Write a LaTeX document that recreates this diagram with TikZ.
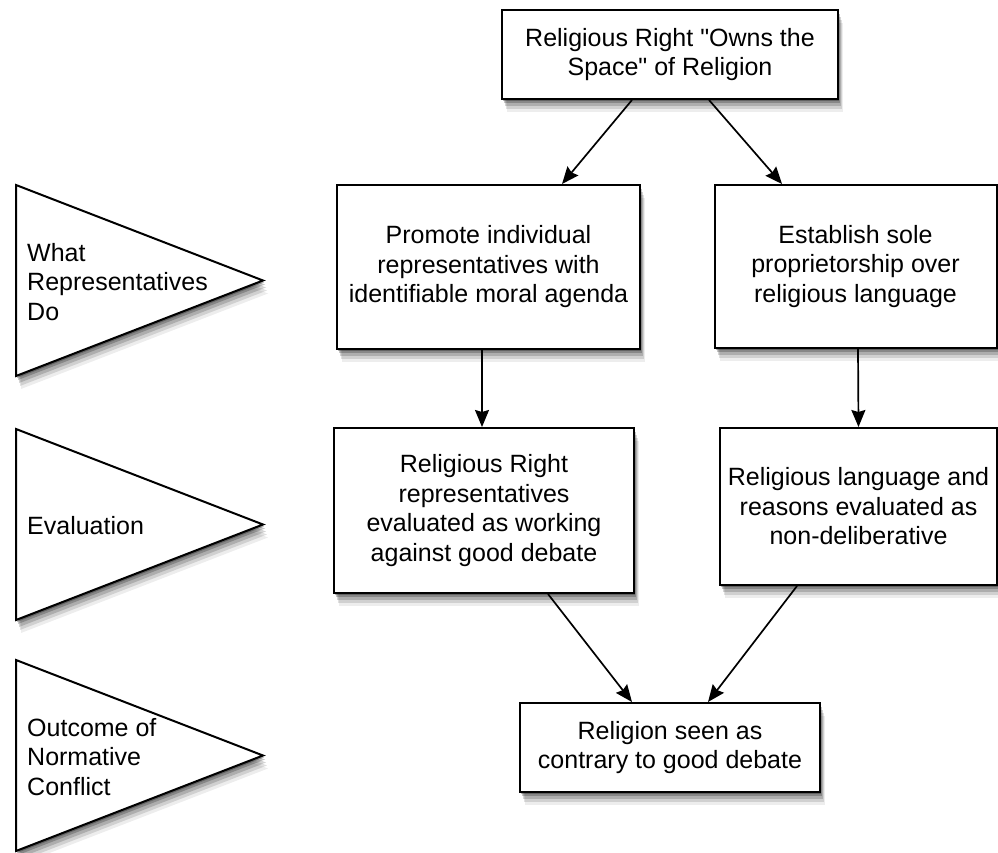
\documentclass[tikz,border=0pt]{standalone}
\usepackage{fontspec}
\setmainfont{Liberation Sans}
\usetikzlibrary{arrows.meta,shadows}
\tikzset{>={Stealth[length=17pt,width=14pt,inset=2pt]}}
\tikzset{
  boxshadow/.style={
    drop shadow={shadow xshift=1pt,shadow yshift=-2pt,fill=black,opacity=.28},
    drop shadow={shadow xshift=2pt,shadow yshift=-4pt,fill=black,opacity=.22},
    drop shadow={shadow xshift=3pt,shadow yshift=-7pt,fill=black,opacity=.17},
    drop shadow={shadow xshift=4pt,shadow yshift=-10pt,fill=black,opacity=.12},
    drop shadow={shadow xshift=5pt,shadow yshift=-13pt,fill=black,opacity=.07}},
  box/.style={draw,line width=2pt,fill=white,boxshadow,align=center,inner sep=4pt},
  tri/.style={draw,line width=2pt,fill=white,boxshadow,line join=miter},
  stagelabel/.style={anchor=west,align=left,inner sep=0pt},
  link/.style={->,line width=1.7pt}
}
\newcommand*{\stagetri}[3]
  {\draw[tri] (16,#1) -- (263,#1+95.5) -- (16,#1+191) -- cycle;
   \node[stagelabel] (#2) at (27,#1+97) {#3};}

\begin{document}
\begin{tikzpicture}[x=1pt,y=-1pt,font=\fontsize{25}{29.5}\selectfont]
\useasboundingbox (0,0) rectangle (998,853);
% stages on the left
\stagetri{185}{what}{What\\Representatives\\Do}
\stagetri{429}{eval}{Evaluation}
\stagetri{660}{outc}{Outcome of\\Normative\\Conflict}
% boxes
\node[box,minimum width=336pt,minimum height=89pt] (owns) at (670,54.5)
  {Religious Right \textquotedbl Owns the\\Space\textquotedbl{} of Religion};
\node[box,minimum width=303pt,minimum height=164pt] (promote) at (488.5,267)
  {Promote individual\\representatives with\\identifiable moral agenda};
\node[box,minimum width=282pt,minimum height=163pt] (establish) at (855.5,266.5)
  {Establish sole\\proprietorship over\\religious language};
\node[box,minimum width=300pt,minimum height=165pt] (evalrr) at (484,510.5)
  {Religious Right\\representatives\\evaluated as working\\against good debate};
\node[box,minimum width=277pt,minimum height=157pt] (evallang) at (858.5,506.5)
  {Religious language and\\reasons evaluated as\\non-deliberative};
\node[box,minimum width=300pt,minimum height=89pt] (contrary) at (670,747.5)
  {Religion seen as\\contrary to good debate};
% connectors
\draw[link] ([xshift=-38pt]owns.south) -- ([xshift=73.5pt]promote.north);
\draw[link] ([xshift=39pt]owns.south) -- ([xshift=-73.5pt]establish.north);
\draw[link] ([xshift=-6.5pt]promote.south) -- ([xshift=-2pt]evalrr.north);
\draw[link] ([xshift=2.5pt]establish.south) -- (evallang.north);
\draw[link] ([xshift=64pt]evalrr.south) -- ([xshift=-38pt]contrary.north);
\draw[link] ([xshift=-61.5pt]evallang.south) -- ([xshift=38pt]contrary.north);
\end{tikzpicture}
\end{document}
